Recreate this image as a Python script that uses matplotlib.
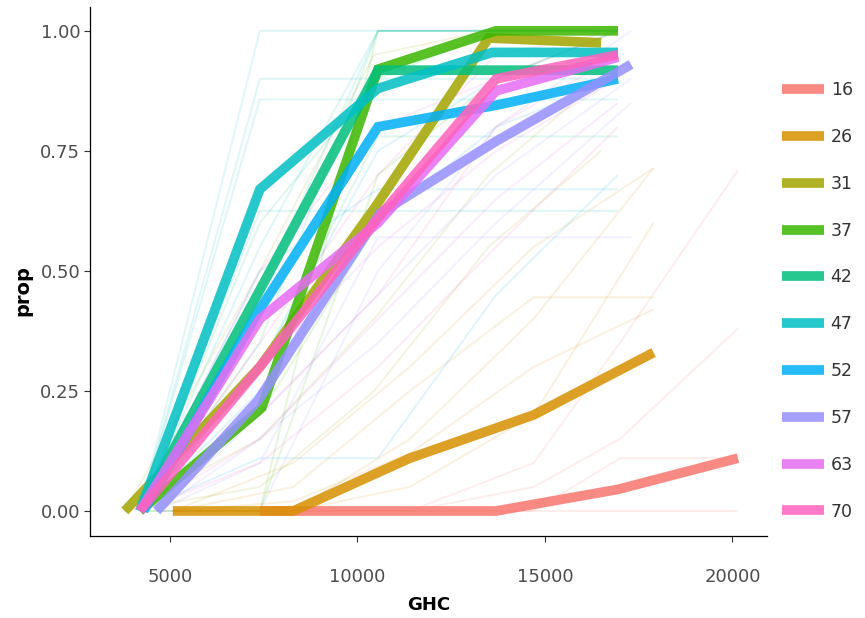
import matplotlib
matplotlib.use("Agg")
import matplotlib.pyplot as plt
from matplotlib.lines import Line2D

# ---------------- data ----------------
groups = ["16", "26", "31", "37", "42", "47", "52", "57", "63", "70"]
colors = ["#F8766D", "#D89000", "#A3A500", "#39B600", "#00BF7D",
          "#00BFC4", "#00B0F6", "#9590FF", "#E76BF3", "#FF62BC"]

# thick (group mean) lines
x16 = [7400, 10550, 13700, 16950, 20150]
y16 = [0.0, 0.0, 0.0, 0.045, 0.11]
x26 = [5080, 8290, 11400, 14700, 17900]
y26 = [0.0, 0.0, 0.11, 0.20, 0.33]
x31 = [3800, 7400, 10450, 13500, 16500]
y31 = [0.0, 0.30, 0.63, 0.985, 0.975]
x37 = [4200, 7450, 10550, 13700, 16950]
y37 = [0.0, 0.215, 0.92, 1.0, 1.0]
x42 = [4200, 7400, 10550, 13700, 16950]
y42 = [0.0, 0.46, 0.918, 0.918, 0.918]
x47 = [4200, 7400, 10550, 13600, 16950]
y47 = [0.0, 0.67, 0.88, 0.955, 0.955]
x52 = [4300, 7400, 10550, 13700, 16950]
y52 = [0.0, 0.42, 0.80, 0.845, 0.90]
x57 = [4650, 7350, 10600, 13700, 17300]
y57 = [0.0, 0.23, 0.62, 0.77, 0.93]
x63 = [4200, 7400, 10550, 13700, 16950]
y63 = [0.0, 0.40, 0.60, 0.875, 0.945]
x70 = [4200, 7400, 10550, 13700, 16950]
y70 = [0.0, 0.30, 0.61, 0.90, 0.95]

# faint (individual) lines, x grids per group
xf_main = [4200, 7400, 10550, 13700, 16950]
xf_lav = [4650, 7400, 10550, 13700, 17300]
xf_olive = [3800, 7400, 10450, 13500, 16500]
xf_orange = [5080, 8290, 11400, 14700, 17900]
xf_salmon = [5080, 8290, 11400, 14700, 17000, 20150]

faint16 = [[0, 0, 0, 0, 0, 0], [0, 0, 0, 0, 0.11, 0.11],
           [0, 0, 0, 0.05, 0.15, 0.38], [0, 0, 0, 0.10, 0.35, 0.71]]
faint26 = [[0, 0.05, 0.25, 0.445, 0.445], [0, 0, 0.15, 0.40, 0.714],
           [0, 0.10, 0.30, 0.55, 0.714], [0, 0, 0.05, 0.20, 0.60],
           [0, 0.02, 0.12, 0.30, 0.42]]
faint31 = [[0, 0.50, 0.95, 1.0, 1.0], [0, 0.15, 0.40, 0.70, 0.90],
           [0, 0.05, 0.25, 0.55, 0.75]]
faint37 = [[0, 0, 1.0, 1.0, 1.0], [0, 0, 0.70, 0.90, 1.0],
           [0, 0.20, 0.60, 0.90, 0.95]]
faint42 = [[0, 0.35, 1.0, 1.0, 1.0], [0, 0.60, 0.90, 1.0, 1.0],
           [0, 0.30, 0.78, 0.78, 0.78]]
faint47 = [[0, 1.0, 1.0, 1.0, 1.0], [0, 0.90, 0.90, 0.90, 0.90],
           [0, 0.857, 0.857, 0.857, 0.857], [0, 0.625, 0.625, 0.625, 0.625],
           [0, 0.55, 1.0, 1.0, 1.0], [0, 0.45, 1.0, 1.0, 1.0]]
faint52 = [[0, 0.30, 0.75, 0.90, 1.0], [0, 0.50, 0.67, 0.67, 0.67],
           [0, 0.25, 0.60, 0.80, 0.90], [0, 0.11, 0.11, 0.45, 0.70]]
faint57 = [[0, 0, 0.50, 0.80, 1.0], [0, 0.10, 0.57, 0.57, 0.57],
           [0, 0.20, 0.45, 0.70, 0.90], [0, 0.15, 0.35, 0.60, 0.85]]
faint63 = [[0, 0.50, 0.80, 0.90, 1.0], [0, 0.30, 0.55, 0.75, 0.90],
           [0, 0.15, 0.40, 0.65, 0.85]]
faint70 = [[0, 0.35, 0.70, 0.95, 1.0], [0, 0.20, 0.45, 0.80, 0.95],
           [0, 0.10, 0.30, 0.55, 0.80]]

yticks = [0.0, 0.25, 0.5, 0.75, 1.0]
xticks = [5000, 10000, 15000, 20000]

# ---------------- plot ----------------
fig = plt.figure(figsize=(8.65, 6.18), dpi=100)
ax = fig.add_axes([0.104, 0.132, 0.783, 0.857])

faint_sets = [(xf_salmon, faint16), (xf_orange, faint26), (xf_olive, faint31),
              (xf_main, faint37), (xf_main, faint42), (xf_main, faint47),
              (xf_main, faint52), (xf_lav, faint57), (xf_main, faint63),
              (xf_main, faint70)]
for (xs, lines), c in zip(faint_sets, colors):
    for ys in lines:
        ax.plot(xs, ys, color=c, lw=1.4, alpha=0.13, solid_capstyle="butt", zorder=1)

thick = [(x16, y16), (x26, y26), (x31, y31), (x37, y37), (x42, y42),
         (x47, y47), (x52, y52), (x57, y57), (x63, y63), (x70, y70)]
for (xs, ys), c in zip(thick, colors):
    ax.plot(xs, ys, color=c, lw=7, alpha=0.85, solid_capstyle="butt",
            solid_joinstyle="miter", zorder=2)

ax.set_xlim(2870, 20930)
ax.set_ylim(-0.053, 1.05)
ax.set_xticks(xticks)
ax.set_xticklabels([str(v) for v in xticks])
ax.set_yticks(yticks)
ax.set_yticklabels(["%.2f" % v for v in yticks])

for s in ["top", "right"]:
    ax.spines[s].set_visible(False)
for s in ["left", "bottom"]:
    ax.spines[s].set_color("black")
    ax.spines[s].set_linewidth(0.9)
ax.tick_params(axis="both", direction="out", length=4, width=0.8,
               colors="#333333", labelcolor="#4d4d4d", labelsize=13)
ax.tick_params(axis="x", pad=19)
ax.tick_params(axis="y", pad=3)

ax.set_xlabel("GHC", fontsize=13, fontweight="bold", labelpad=7)
ax.set_ylabel("prop", fontsize=14, fontweight="bold", labelpad=2)
ax.yaxis.set_label_coords(-0.085, 0.465)

handles = [Line2D([0], [0], color=c, lw=7, alpha=0.85, solid_capstyle="butt")
           for c in colors]
leg = fig.legend(handles, groups, loc="upper left", bbox_to_anchor=(0.886, 0.894),
                 frameon=False, fontsize=12.5, handlelength=2.4,
                 labelspacing=1.66, handletextpad=0.4)
for t in leg.get_texts():
    t.set_color("#333333")

fig.savefig("out.png", dpi=100)
